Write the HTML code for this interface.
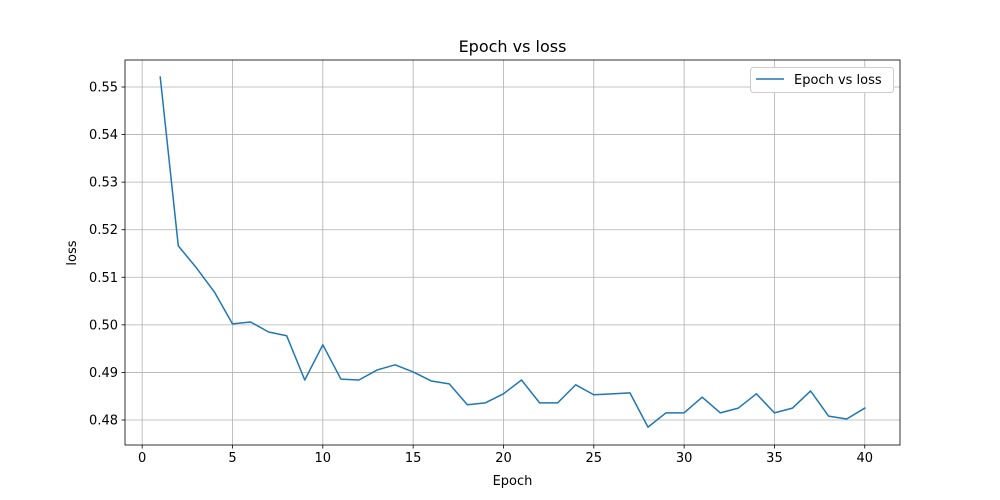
<!DOCTYPE html>
<html><head><meta charset="utf-8"><style>
body{margin:0;background:#fff;}
svg{display:block;font-family:"DejaVu Sans","Liberation Sans",sans-serif;}
</style></head><body>
<svg id="chart" width="1000" height="500"></svg>
<script>
const epochs = [];
for (let i = 1; i <= 40; i++) epochs.push(i);
const lossValues = [0.5521,0.5166,0.5120,0.5069,0.5002,0.5006,0.4985,0.4977,0.4884,0.4958,
0.4886,0.4884,0.4905,0.4916,0.4901,0.4882,0.4876,0.4832,0.4836,0.4855,
0.4884,0.4836,0.4836,0.4874,0.4853,0.4855,0.4857,0.4785,0.4815,0.4815,
0.4848,0.4815,0.4825,0.4855,0.4815,0.4825,0.4861,0.4808,0.4802,0.4825];
const xTicks = [0,5,10,15,20,25,30,35,40];
const yTicks = [0.48,0.49,0.50,0.51,0.52,0.53,0.54,0.55];

const L=125,R=900,T=60,B=445;
const xMin=-0.95,xMax=41.95,yMin=0.47474,yMax=0.55568;
const xs=v=>L+(v-xMin)/(xMax-xMin)*(R-L);
const ys=v=>B-(v-yMin)/(yMax-yMin)*(B-T);
const svg=document.getElementById('chart');
const NS='http://www.w3.org/2000/svg';
function mk(tag,attrs,parent){const e=document.createElementNS(NS,tag);for(const k in attrs)e.setAttribute(k,attrs[k]);(parent||svg).appendChild(e);return e;}

const grid=mk('g',{});


xTicks.forEach(t=>{
  const x=xs(t);
  mk('line',{x1:x,x2:x,y1:T,y2:B,stroke:'#b0b0b0','stroke-width':0.8},grid);
  mk('line',{x1:x,x2:x,y1:B,y2:B+3.5,stroke:'#000','stroke-width':0.8},grid);
  const tx=mk('text',{x:x,y:B+17,'text-anchor':'middle','font-size':13,fill:'#000'});
  tx.textContent=t;
  
  
});
yTicks.forEach(t=>{
  const y=ys(t);
  mk('line',{x1:L,x2:R,y1:y,y2:y,stroke:'#b0b0b0','stroke-width':0.8},grid);
  mk('line',{x1:L-3.5,x2:L,y1:y,y2:y,stroke:'#000','stroke-width':0.8},grid);
  const tx=mk('text',{x:L-7,y:y+4.5,'text-anchor':'end','font-size':13,fill:'#000'});
  tx.textContent=t.toFixed(2);
  
  
});

const line=mk('polyline',{points:epochs.map((e,i)=>xs(e)+','+ys(lossValues[i])).join(' '),fill:'none',stroke:'#1f77b4','stroke-width':1.5,'stroke-linejoin':'round','stroke-linecap':'square'});



const frame=mk('rect',{x:L,y:T,width:R-L,height:B-T,fill:'none',stroke:'#000','stroke-width':0.8});



const title=mk('text',{x:(L+R)/2,y:52,'text-anchor':'middle','font-size':16,fill:'#000'});
title.textContent='Epoch vs loss';


const xl=mk('text',{x:(L+R)/2,y:485,'text-anchor':'middle','font-size':13,fill:'#000'});
xl.textContent='Epoch';


const yl=mk('text',{x:0,y:0,'text-anchor':'middle','font-size':13,fill:'#000',transform:'translate(76,253) rotate(-90)'});
yl.textContent='loss';



const leg=mk('g',{});


mk('rect',{x:750.5,y:67.5,width:143,height:25,rx:3,fill:'#fff',stroke:'#ccc','stroke-width':1},leg);
mk('line',{x1:756,x2:784,y1:79,y2:79,stroke:'#1f77b4','stroke-width':1.5},leg);
const lt=mk('text',{x:794,y:84,'font-size':13,fill:'#000'},leg);
lt.textContent='Epoch vs loss';


</script>
</body></html>
